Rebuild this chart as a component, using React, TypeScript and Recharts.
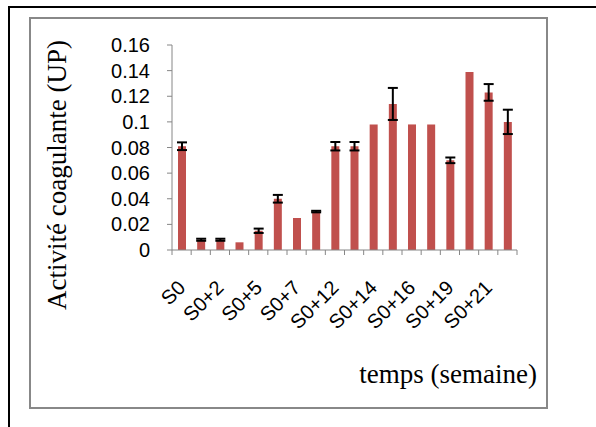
import { BarChart, Bar, XAxis, YAxis, ErrorBar } from 'recharts'

const categories = ['S0', 'S0+1', 'S0+2', 'S0+3', 'S0+5', 'S0+6', 'S0+7', 'S0+9', 'S0+12', 'S0+13', 'S0+14', 'S0+15', 'S0+16', 'S0+17', 'S0+19', 'S0+20', 'S0+21', 'S0+22']
const activity = [0.081, 0.008, 0.008, 0.006, 0.015, 0.04, 0.025, 0.03, 0.081, 0.081, 0.098, 0.114, 0.098, 0.098, 0.07, 0.139, 0.123, 0.1]
const errors: (number | null)[] = [0.003, 0.0008, 0.0008, null, 0.0017, 0.003, null, 0.0006, 0.0033, 0.0033, null, 0.0125, null, null, 0.0022, null, 0.0065, 0.0095]
const yTicks = [0, 0.02, 0.04, 0.06, 0.08, 0.1, 0.12, 0.14, 0.16]

const data = categories.map((c, i) => ({ name: c, value: activity[i], err: errors[i] }))

const W = 596
const H = 427
const PLOT_LEFT = 172
const PLOT_RIGHT = 517
const PLOT_TOP = 45
const PLOT_BOTTOM = 250
const X_AXIS_H = 100
const BAND = (PLOT_RIGHT - PLOT_LEFT) / categories.length

const AXIS = '#868686'
const SANS = '"Liberation Sans", Arial, sans-serif'
const SERIF = '"Liberation Serif", "Times New Roman", serif'

function XTick(props: any) {
  const { x, y, payload, index } = props
  const half = BAND / 2
  const px = x + 5
  const py = y + 39
  return (
    <g>
      <line x1={x - half} y1={y} x2={x - half} y2={y + 5} stroke={AXIS} />
      {index === categories.length - 1 && (
        <line x1={x + half} y1={y} x2={x + half} y2={y + 5} stroke={AXIS} />
      )}
      {index % 2 === 0 && (
        <text
          x={px}
          y={py}
          textAnchor="end"
          transform={`rotate(-45, ${px}, ${py})`}
          style={{ fontSize: 20, fill: '#000', fontFamily: SANS }}
        >
          {payload.value}
        </text>
      )}
    </g>
  )
}

export default function App() {
  return (
    <div style={{ position: 'absolute', left: 0, top: 0, width: W, height: H, background: '#fff', overflow: 'hidden' }}>
      {/* outer frame, cut by the page edges */}
      <div style={{ position: 'absolute', left: 8, top: 6, width: 700, height: 600, borderTop: '2px solid #000', borderLeft: '2px solid #000' }} />
      {/* chart area frame */}
      <div style={{ position: 'absolute', left: 29, top: 17, width: 515, height: 388, border: '2px solid #888' }} />
      <div style={{ position: 'absolute', left: 0, top: 0 }}>
        <BarChart
          width={W}
          height={H}
          data={data}
          margin={{ top: PLOT_TOP, right: W - PLOT_RIGHT, bottom: H - PLOT_BOTTOM - X_AXIS_H, left: 0 }}
          barSize={8}
        >
          <XAxis
            dataKey="name"
            interval={0}
            height={X_AXIS_H}
            tickSize={0}
            tickMargin={0}
            tickLine={false}
            axisLine={{ stroke: AXIS }}
            tick={<XTick />}
          />
          <YAxis
            width={PLOT_LEFT}
            domain={[0, 0.16]}
            ticks={yTicks}
            interval={0}
            tickSize={5}
            tickMargin={17}
            tickLine={{ stroke: AXIS }}
            axisLine={{ stroke: AXIS }}
            tick={{ fontSize: 20, fill: '#000', fontFamily: SANS }}
          />
          <Bar dataKey="value" fill="#C0504D" isAnimationActive={false}>
            <ErrorBar dataKey="err" width={5} stroke="#000" strokeWidth={2} direction="y" />
          </Bar>
        </BarChart>
      </div>
      <svg width={W} height={H} style={{ position: 'absolute', left: 0, top: 0, pointerEvents: 'none' }}>
        <text
          x={66}
          y={175}
          textAnchor="middle"
          transform="rotate(-90, 66, 175)"
          style={{ fontSize: 27, fill: '#000', fontFamily: SERIF }}
        >
          Activité coagulante (UP)
        </text>
        <text x={537} y={383} textAnchor="end" style={{ fontSize: 27, fill: '#000', fontFamily: SERIF }}>
          temps (semaine)
        </text>
      </svg>
    </div>
  )
}
